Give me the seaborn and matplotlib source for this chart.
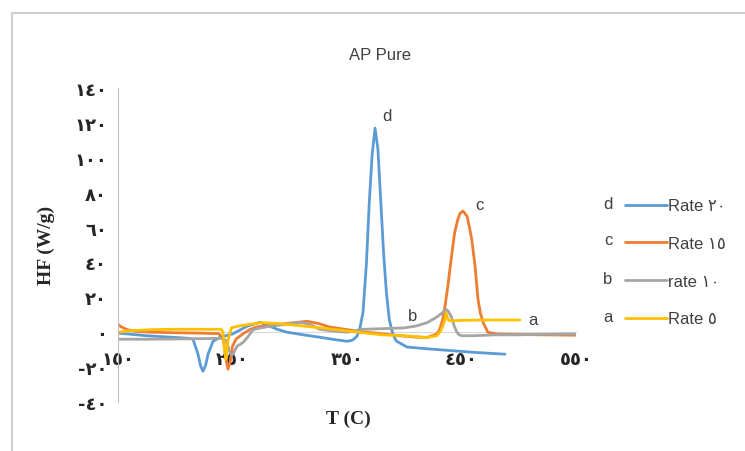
import seaborn as sns
import pandas as pd
from matplotlib import pyplot as plt
from matplotlib.lines import Line2D
from matplotlib.font_manager import FontProperties

# values
T_d = [150, 175, 200, 212, 215.5, 219.9, 222, 224.2, 226.5, 228.6, 233, 239, 250, 262.7, 274,
       289, 297.6, 312, 326.4, 340, 350, 355, 358.7, 361.5, 364, 367, 369.5, 372, 374.5, 377,
       379.5, 382, 384.5, 387, 390, 393, 397, 402.4, 420, 440, 460, 488]
HF_d = [-0.5, -2, -3, -3.5, -4, -12.6, -19, -22.4, -19, -12.6, -5.2, -2.9, -1, 3.4, 5.7,
        1.7, 0, -1.5, -2.9, -4.3, -5.2, -4.5, -2.3, 3, 11.5, 40, 75, 102, 117, 105,
        75, 45, 22, 7, -1, -5, -6.5, -8.5, -9.5, -10.5, -11.5, -12.6]

T_c = [150, 153, 158, 165, 180, 200, 220, 238, 242, 244, 246, 248, 250, 253, 259, 265, 271,
       280, 295, 315, 325, 335, 350, 360, 375, 396, 410, 420, 428.6, 431, 433.5, 435.6, 438,
       441, 444, 446.5, 448.6, 451.3, 454.8, 457, 459, 461.8, 464.4, 466.5, 468.8, 473, 481,
       500, 520, 550]
HF_c = [4.5, 3, 1.5, 0.5, 0, -0.3, -0.5, -0.8, -4, -14, -21.2, -17, -8, -4, -1, 1.5, 3,
        3.8, 4.8, 6.3, 5, 3, 1.5, 0.5, -0.5, -2, -2.8, -3, -1, 1.7, 7, 15, 26,
        42, 57, 64, 68, 69.5, 66.5, 60, 53, 38, 19, 11, 5.7, 0, -1,
        -1.3, -1.5, -1.7]

T_b = [150, 180, 210, 240, 244, 246, 248, 250, 254, 259, 263, 268, 275, 283, 297, 309, 318,
       326, 340, 350, 364, 380, 400, 410, 420, 428, 433, 436.5, 438.5, 441, 444, 446, 448,
       450.4, 460, 480, 500, 520, 550]
HF_b = [-4, -4, -3.8, -3.5, -4.5, -8, -12, -13, -8, -6, -3, 1.5, 2.5, 3.5, 4.5, 5.7, 4.5,
        1.7, 0.5, 0, 1.7, 2, 2.5, 3.5, 5.5, 8.5, 11, 13, 12, 9, 3, 0, -1.5,
        -2, -2, -1.5, -1.5, -1.2, -1]

T_a = [150, 160, 180, 200, 220, 240, 241.7, 243, 244.3, 246, 249, 255, 265, 275, 290, 305,
       320, 340, 360, 380, 400, 420, 428.6, 432, 435, 436.5, 438.5, 441, 450, 470, 501]
HF_a = [0, 0.8, 1.5, 1.7, 1.7, 1.7, 0, -10, -15.5, -5, 2.5, 3.5, 4.5, 5.5, 5, 4,
        3, 1.5, 0, -1.5, -2, -3, -2, 1, 6, 11, 7, 6.5, 6.8, 7, 7]

series_names = ['Rate ٢٠', 'Rate ١٥', 'rate ١٠', 'Rate ٥']
series_tags = ['d', 'c', 'b', 'a']
colors = ['#5B9BD5', '#ED7D31', '#A5A5A5', '#FFC000']

x_ticks = [150, 250, 350, 450, 550]
x_tick_labels = ['١٥٠', '٢٥٠', '٣٥٠', '٤٥٠', '٥٥٠']
y_ticks = [-40, -20, 0, 20, 40, 60, 80, 100, 120, 140]
y_tick_labels = ['-٤٠', '-٢٠', '٠', '٢٠', '٤٠', '٦٠', '٨٠', '١٠٠', '١٢٠', '١٤٠']

frames = []
for name, t, hf in zip(series_names, [T_d, T_c, T_b, T_a], [HF_d, HF_c, HF_b, HF_a]):
    frames.append(pd.DataFrame({'T': t, 'HF': hf, 'series': name}))
df = pd.concat(frames, ignore_index=True)

sns.set_style('white')
plt.rcParams['font.family'] = ['Liberation Sans', 'DejaVu Sans']

fig = plt.figure(figsize=(7.45, 4.52), dpi=100)
ax = fig.add_axes([118 / 745, 1 - 403 / 452, 458 / 745, 314 / 452])

sns.lineplot(data=df, x='T', y='HF', hue='series', hue_order=series_names, palette=colors,
             sort=False, estimator=None, lw=2, legend=False, ax=ax)

for s in ['top', 'right']:
    ax.spines[s].set_visible(False)
ax.spines['left'].set_color('#bfbfbf')
# horizontal axis crosses at zero (this resets the x ticks, so style them afterwards)
ax.spines['bottom'].set_position(('data', 0))
ax.spines['bottom'].set_color('#d9d9d9')
ax.spines['bottom'].set_zorder(0)

ax.set_xlim(150, 550)
ax.set_ylim(-40, 140)
ax.set_xticks(x_ticks)
ax.set_xticklabels(x_tick_labels, family=['DejaVu Sans'], fontsize=13, weight='bold', color='#262626')
ax.set_yticks(y_ticks)
ax.set_yticklabels(y_tick_labels, family=['DejaVu Sans'], fontsize=13, weight='bold', color='#262626')
ax.set_xlabel('')
ax.set_ylabel('')
ax.tick_params(axis='x', length=0, pad=13)
ax.tick_params(axis='y', length=4, color='#bfbfbf', pad=4)

# peak tags
tag_pos = [(385, 124), (466, 73.4), (407.6, 9.75), (512.4, 7.5)]
for tag, (tx, ty) in zip(series_tags, tag_pos):
    ax.text(tx, ty, tag, fontsize=12, color='#404040', ha='center', va='center')

fig.text(380 / 745, 1 - 56 / 452, 'AP Pure', ha='center', va='center', fontsize=12, color='#404040')
fig.text(46 / 745, 1 - 245 / 452, 'HF (W/g)', rotation=90, ha='center', va='center',
         family=['Liberation Serif'], weight='bold', fontsize=14)
fig.text(348 / 745, 1 - 419 / 452, 'T (C)', ha='center', va='center',
         family=['Liberation Serif'], weight='bold', fontsize=14)

handles = [Line2D([], [], color=c, lw=2) for c in colors]
ax.legend(handles, series_names, loc='center left', bbox_to_anchor=(625 / 745, 1 - 263.5 / 452),
          bbox_transform=fig.transFigure, frameon=False, handlelength=2.5, handletextpad=0.1,
          labelspacing=1.36, borderpad=0, borderaxespad=0,
          prop=FontProperties(family=['Liberation Sans', 'DejaVu Sans'], size=12),
          labelcolor='#404040')
for tag, py in zip(series_tags, [205, 241, 279, 318]):
    fig.text(608 / 745, 1 - py / 452, tag, ha='center', va='center', fontsize=12, color='#404040')

# outer chart border
fig.add_artist(Line2D([12 / 745, 12 / 745], [0, 1 - 14 / 452], transform=fig.transFigure,
                      color='#d0d0d0', lw=1.5))
fig.add_artist(Line2D([12 / 745, 1], [1 - 14 / 452, 1 - 14 / 452], transform=fig.transFigure,
                      color='#d0d0d0', lw=1.5))

fig.savefig('out.png', dpi=100)
